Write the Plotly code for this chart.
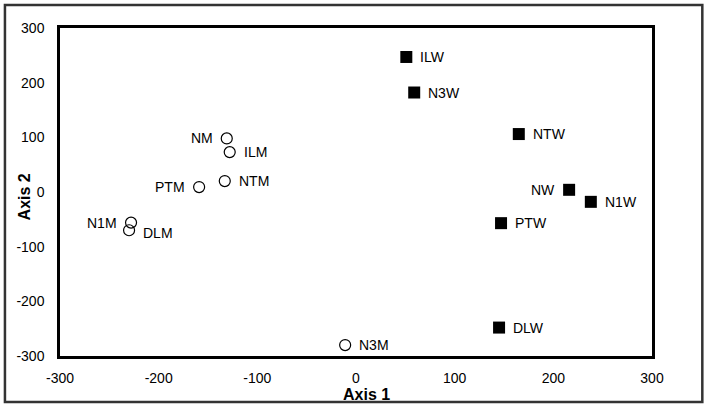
import plotly.graph_objects as go

# === Dati (ordinazione, assi 1 e 2) ===
m_labels = ["NM", "ILM", "NTM", "PTM", "N1M", "DLM", "N3M"]
m_x = [-131, -128, -133, -159, -228, -230, -11]
m_y = [98, 73, 20, 9, -56, -70, -280]
m_side = ["left", "right", "right", "left", "left", "right", "right"]

w_labels = ["ILW", "N3W", "NTW", "NW", "N1W", "PTW", "DLW"]
w_x = [51, 59, 165, 216, 238, 147, 145]
w_y = [247, 182, 106, 4, -18, -57, -248]
w_side = ["right", "right", "right", "left", "right", "right", "right"]

axis_ticks = [-300, -200, -100, 0, 100, 200, 300]
tick_text = ["-300", "-200", "-100", "0", "100", "200", "300"]

FONT = "Liberation Sans, Arial, sans-serif"

fig = go.Figure()

fig.add_trace(go.Scatter(
    x=m_x, y=m_y, mode="markers",
    marker=dict(symbol="circle-open", size=11, color="black", line=dict(width=1.2)),
    showlegend=False,
))

fig.add_trace(go.Scatter(
    x=w_x, y=w_y, mode="markers",
    marker=dict(symbol="square", size=12, color="black"),
    showlegend=False,
))

# === Etichette dei punti ===
for labels, xs, ys, sides in [(m_labels, m_x, m_y, m_side), (w_labels, w_x, w_y, w_side)]:
    for lab, x, y, side in zip(labels, xs, ys, sides):
        fig.add_annotation(
            x=x, y=y, text=lab, showarrow=False,
            xanchor="left" if side == "right" else "right",
            xshift=12 if side == "right" else -12,
            yshift=-3 if lab == "DLM" else 0,
            font=dict(family=FONT, size=14, color="black"),
        )

# === Titoli degli assi ===
fig.add_annotation(
    x=0.517, y=-0.118, xref="paper", yref="paper", showarrow=False,
    text="<b>Axis 1</b>", font=dict(family=FONT, size=16, color="black"),
    xanchor="center", yanchor="middle",
)
fig.add_annotation(
    x=-0.06, y=0.485, xref="paper", yref="paper", showarrow=False,
    text="<b>Axis 2</b>", textangle=-90, font=dict(family=FONT, size=16, color="black"),
    xanchor="center", yanchor="middle",
)

# === Cornice esterna ===
fig.add_shape(
    type="rect", xref="paper", yref="paper",
    x0=-0.093, x1=1.085, y0=-0.14, y1=1.07,
    line=dict(color="#333333", width=2.5),
)

fig.update_layout(
    width=709, height=411,
    plot_bgcolor="white",
    paper_bgcolor="white",
    margin=dict(l=60, r=57, t=28, b=55),
    font=dict(family=FONT, size=14, color="black"),
)

fig.update_xaxes(
    range=[-300, 300], tickvals=axis_ticks, ticktext=tick_text,
    showgrid=False, zeroline=False, automargin=False,
    showline=True, mirror=True, linecolor="black", linewidth=2.5,
    ticks="", ticklabelstandoff=7,
)
fig.update_yaxes(
    range=[-300, 300], tickvals=axis_ticks, ticktext=tick_text,
    showgrid=False, zeroline=False, automargin=False,
    showline=True, mirror=True, linecolor="black", linewidth=2.5,
    ticks="", ticklabelstandoff=10,
)

# margine del body a zero, così la figura parte dall'angolo della finestra
fig.write_html("out.html", config={"displayModeBar": False},
               post_script="document.body.style.margin = '0';")
